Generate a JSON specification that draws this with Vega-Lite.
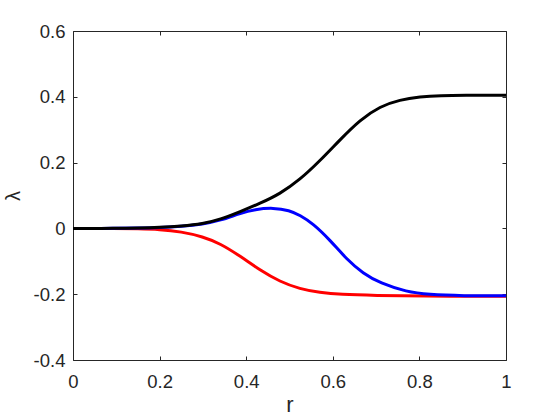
{
  "$schema": "https://vega.github.io/schema/vega-lite/v6.json",
  "width": 433,
  "height": 329,
  "autosize": {"type": "none"},
  "padding": {"left": 73, "top": 31, "right": 54, "bottom": 60},
  "background": "white",
  "config": {
    "view": {"stroke": "#262626", "strokeWidth": 1},
    "axis": {
      "grid": false,
      "domain": false,
      "labelFlush": false,
      "tickColor": "#262626",
      "tickSize": -4,
      "labelColor": "#262626",
      "labelFont": "Liberation Sans",
      "labelFontSize": 18.5,
      "titleFont": "Liberation Sans",
      "titleColor": "#262626",
      "titleFontWeight": "normal"
    }
  },
  "data": {
    "values": [
      {"s": "red", "x": 0, "y": 0},
      {"s": "red", "x": 0.1, "y": 0},
      {"s": "red", "x": 0.15, "y": -0.001},
      {"s": "red", "x": 0.2, "y": -0.003},
      {"s": "red", "x": 0.25, "y": -0.01},
      {"s": "red", "x": 0.3, "y": -0.025},
      {"s": "red", "x": 0.34, "y": -0.046},
      {"s": "red", "x": 0.386, "y": -0.084},
      {"s": "red", "x": 0.432, "y": -0.127},
      {"s": "red", "x": 0.478, "y": -0.162},
      {"s": "red", "x": 0.524, "y": -0.184},
      {"s": "red", "x": 0.57, "y": -0.195},
      {"s": "red", "x": 0.617, "y": -0.201},
      {"s": "red", "x": 0.7, "y": -0.204},
      {"s": "red", "x": 0.8, "y": -0.206},
      {"s": "red", "x": 1.0, "y": -0.206},
      {"s": "blue", "x": 0, "y": 0},
      {"s": "blue", "x": 0.1, "y": 0},
      {"s": "blue", "x": 0.15, "y": 0.001},
      {"s": "blue", "x": 0.2, "y": 0.002},
      {"s": "blue", "x": 0.25, "y": 0.006},
      {"s": "blue", "x": 0.3, "y": 0.013},
      {"s": "blue", "x": 0.34, "y": 0.024},
      {"s": "blue", "x": 0.386, "y": 0.046},
      {"s": "blue", "x": 0.42, "y": 0.058},
      {"s": "blue", "x": 0.463, "y": 0.063},
      {"s": "blue", "x": 0.5, "y": 0.055},
      {"s": "blue", "x": 0.524, "y": 0.04},
      {"s": "blue", "x": 0.554, "y": 0.015},
      {"s": "blue", "x": 0.594, "y": -0.036},
      {"s": "blue", "x": 0.632, "y": -0.094},
      {"s": "blue", "x": 0.67, "y": -0.137},
      {"s": "blue", "x": 0.709, "y": -0.166},
      {"s": "blue", "x": 0.771, "y": -0.193},
      {"s": "blue", "x": 0.82, "y": -0.201},
      {"s": "blue", "x": 0.9, "y": -0.205},
      {"s": "blue", "x": 1.0, "y": -0.205},
      {"s": "black", "x": 0, "y": 0},
      {"s": "black", "x": 0.1, "y": 0},
      {"s": "black", "x": 0.15, "y": 0.001},
      {"s": "black", "x": 0.2, "y": 0.003},
      {"s": "black", "x": 0.25, "y": 0.007},
      {"s": "black", "x": 0.3, "y": 0.014},
      {"s": "black", "x": 0.34, "y": 0.027},
      {"s": "black", "x": 0.386, "y": 0.051},
      {"s": "black", "x": 0.432, "y": 0.076},
      {"s": "black", "x": 0.478, "y": 0.105},
      {"s": "black", "x": 0.524, "y": 0.148},
      {"s": "black", "x": 0.57, "y": 0.205},
      {"s": "black", "x": 0.617, "y": 0.27},
      {"s": "black", "x": 0.663, "y": 0.33},
      {"s": "black", "x": 0.709, "y": 0.371},
      {"s": "black", "x": 0.755, "y": 0.391},
      {"s": "black", "x": 0.801, "y": 0.4},
      {"s": "black", "x": 0.85, "y": 0.404},
      {"s": "black", "x": 0.9, "y": 0.405},
      {"s": "black", "x": 1.0, "y": 0.405}
    ]
  },
  "layer": [
    {
      "transform": [{"filter": "datum.s === 'red'"}],
      "mark": {"type": "line", "color": "#ff0000", "strokeWidth": 3, "interpolate": "basis"},
      "encoding": {
        "x": {"field": "x", "type": "quantitative",
              "scale": {"domain": [0, 1], "nice": false, "zero": false},
              "axis": {"orient": "bottom", "values": [0, 0.2, 0.4, 0.6, 0.8, 1], "labelExpr": "'' + datum.value", "labelPadding": 16, "title": "r", "titleFontSize": 22, "titlePadding": 4}},
        "y": {"field": "y", "type": "quantitative",
              "scale": {"domain": [-0.4, 0.6], "nice": false, "zero": false},
              "axis": {"orient": "left", "values": [-0.4, -0.2, 0, 0.2, 0.4, 0.6], "labelExpr": "'' + datum.value", "labelPadding": 12, "title": "λ", "titleFontSize": 20, "titlePadding": 10}}
      }
    },
    {
      "transform": [{"filter": "datum.s === 'blue'"}],
      "mark": {"type": "line", "color": "#0000ff", "strokeWidth": 3, "interpolate": "basis"},
      "encoding": {
        "x": {"field": "x", "type": "quantitative", "axis": null},
        "y": {"field": "y", "type": "quantitative", "axis": null}
      }
    },
    {
      "transform": [{"filter": "datum.s === 'black'"}],
      "mark": {"type": "line", "color": "#000000", "strokeWidth": 3, "interpolate": "basis"},
      "encoding": {
        "x": {"field": "x", "type": "quantitative",
              "axis": {"orient": "top", "values": [0, 0.2, 0.4, 0.6, 0.8, 1], "labels": false, "title": null}},
        "y": {"field": "y", "type": "quantitative",
              "axis": {"orient": "right", "values": [-0.4, -0.2, 0, 0.2, 0.4, 0.6], "labels": false, "title": null}}
      }
    }
  ],
  "resolve": {"axis": {"x": "independent", "y": "independent"}}
}
